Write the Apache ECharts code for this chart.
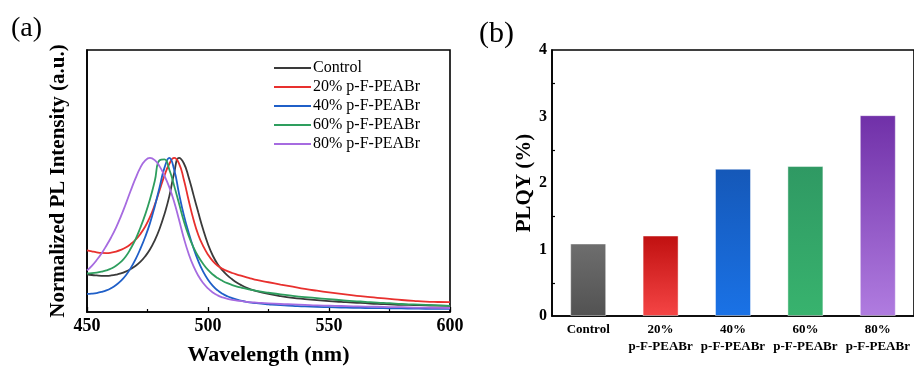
<!DOCTYPE html>
<html>
<head>
<meta charset="utf-8">
<script src="https://cdn.jsdelivr.net/npm/echarts@6/dist/echarts.min.js"></script>
<style>
  html, body { margin: 0; padding: 0; background: #fff; }
  #chart { width: 914px; height: 371px; }
</style>
</head>
<body>
<div id="chart"></div>
<script>
// (a) PL spectra, normalized intensity at each wavelength (nm)
const wavelength = [450,452,454,456,458,460,462,464,466,468,470,472,474,476,478,480,482,484,486,488,490,492,494,496,498,500,502,504,506,508,510,512,514,516,518,520,525,530,535,540,545,550,555,560,565,570,575,580,585,590,595,600]
const control = [.245,.240,.237,.235,.235,.237,.242,.250,.262,.278,.298,.325,.360,.405,.465,.540,.635,.750,.900,1.000,.965,.875,.760,.645,.535,.440,.365,.310,.270,.238,.212,.190,.172,.157,.145,.135,.117,.103,.092,.084,.077,.071,.066,.061,.057,.053,.050,.047,.045,.043,.041,.040]
const pf20 = [.400,.393,.387,.383,.382,.385,.392,.403,.418,.440,.468,.505,.553,.615,.695,.790,.885,.960,1.000,.965,.860,.725,.600,.500,.428,.372,.330,.300,.280,.265,.253,.243,.234,.225,.216,.208,.193,.178,.164,.150,.138,.127,.117,.108,.100,.092,.085,.078,.072,.067,.065,.064]
const pf40 = [.117,.119,.123,.130,.140,.155,.175,.202,.237,.283,.340,.408,.485,.575,.685,.810,.935,1.000,.925,.770,.630,.515,.415,.330,.262,.210,.170,.140,.118,.102,.090,.080,.072,.066,.061,.057,.050,.044,.040,.036,.033,.031,.029,.027,.026,.025,.024,.023,.022,.021,.021,.020]
const pf60 = [.250,.252,.256,.262,.270,.282,.300,.325,.360,.410,.470,.545,.630,.730,.850,.985,.990,.925,.820,.705,.590,.495,.420,.360,.312,.273,.243,.220,.202,.187,.175,.165,.157,.150,.143,.137,.125,.114,.105,.097,.090,.083,.077,.071,.066,.061,.057,.052,.049,.046,.043,.040]
const pf80 = [.270,.300,.337,.380,.430,.485,.548,.620,.700,.785,.865,.935,.982,1.000,.985,.945,.885,.810,.715,.600,.480,.378,.297,.235,.188,.153,.127,.108,.095,.086,.079,.074,.070,.066,.063,.061,.056,.052,.049,.046,.043,.041,.039,.037,.035,.034,.032,.031,.029,.028,.027,.026]

const seriesNames = ['Control', '20% p-F-PEABr', '40% p-F-PEABr', '60% p-F-PEABr', '80% p-F-PEABr']

// (b) PLQY
const categories = ['Control', '20%\np-F-PEABr', '40%\np-F-PEABr', '60%\np-F-PEABr', '80%\np-F-PEABr']
const plqy = [1.09, 1.21, 2.215, 2.255, 3.02]

const lineColors = ['#3a3a3a', '#e8302e', '#1f5fc8', '#2e9e5e', '#a66be0']
const barColors = [
  ['#6e6e6e', '#525252'],
  ['#c01010', '#f54545'],
  ['#1558b8', '#1a72e6'],
  ['#2f9963', '#38b36e'],
  ['#7030a8', '#b07ce0'],
]

const serif = '"Liberation Serif", "Times New Roman", serif'
const chart = echarts.init(document.getElementById('chart'))

const spectra = [control, pf20, pf40, pf60, pf80]

chart.setOption({
  animation: false,
  textStyle: { fontFamily: serif, color: '#000' },
  graphic: [
    { type: 'text', left: 11, top: 15, style: { text: '(a)', font: '28px ' + serif, fill: '#000' } },
    { type: 'text', left: 479, top: 19, style: { text: '(b)', font: '30px ' + serif, fill: '#000' } },
  ],
  legend: {
    left: 269,
    top: 55,
    orient: 'vertical',
    icon: 'rect',
    itemWidth: 37,
    itemHeight: 2,
    itemGap: 3,
    data: seriesNames,
    textStyle: { fontFamily: serif, fontSize: 16, color: '#000', padding: [0, 0, 0, -3] },
  },
  grid: [
    { left: 87, right: 464, top: 50, bottom: 55, show: true, borderColor: '#000', borderWidth: 1.6 },
    { left: 552, right: -1, top: 50, bottom: 55, show: true, borderColor: '#000', borderWidth: 1.6 },
  ],
  xAxis: [
    {
      gridIndex: 0,
      type: 'value',
      min: 450,
      max: 600,
      interval: 50,
      name: 'Wavelength (nm)',
      nameLocation: 'middle',
      nameGap: 32,
      nameTextStyle: { fontFamily: serif, fontSize: 22, fontWeight: 'bold', color: '#000' },
      axisLine: { lineStyle: { color: '#000', width: 1.6 } },
      axisTick: { inside: true, length: 5, lineStyle: { color: '#000', width: 1.3 } },
      minorTick: { show: true, splitNumber: 2, length: 3, lineStyle: { color: '#000', width: 1.2 } },
      axisLabel: { margin: 5, fontFamily: serif, fontSize: 18, fontWeight: 'bold', color: '#000' },
      splitLine: { show: false },
    },
    {
      gridIndex: 1,
      type: 'category',
      data: categories,
      axisLine: { lineStyle: { color: '#000', width: 1.6 } },
      axisTick: { show: false },
      axisLabel: { margin: 5, fontFamily: serif, fontSize: 13, fontWeight: 'bold', color: '#000', lineHeight: 17, interval: 0 },
    },
  ],
  yAxis: [
    {
      gridIndex: 0,
      type: 'value',
      min: 0,
      max: 1.7,
      name: 'Normalized PL Intensity (a.u.)',
      nameLocation: 'middle',
      nameGap: 18,
      nameTextStyle: { fontFamily: serif, fontSize: 21, fontWeight: 'bold', color: '#000' },
      axisLine: { show: true, lineStyle: { color: '#000', width: 1.6 } },
      axisTick: { show: false },
      axisLabel: { show: false },
      splitLine: { show: false },
    },
    {
      gridIndex: 1,
      type: 'value',
      min: 0,
      max: 4,
      interval: 1,
      name: 'PLQY (%)',
      nameLocation: 'middle',
      nameGap: 15,
      nameTextStyle: { fontFamily: serif, fontSize: 21, fontWeight: 'bold', color: '#000' },
      axisLine: { show: true, lineStyle: { color: '#000', width: 1.6 } },
      axisTick: { inside: true, length: 4, lineStyle: { color: '#000', width: 1.3 } },
      minorTick: { show: true, splitNumber: 2, length: 3, lineStyle: { color: '#000', width: 1.2 } },
      axisLabel: { margin: 5, fontFamily: serif, fontSize: 16, fontWeight: 'bold', color: '#000' },
      splitLine: { show: false },
    },
  ],
  series: [
    ...spectra.map((vals, i) => ({
      name: seriesNames[i],
      type: 'line',
      xAxisIndex: 0,
      yAxisIndex: 0,
      data: wavelength.map((w, j) => [w, vals[j]]),
      smooth: 0.5,
      showSymbol: false,
      lineStyle: { color: lineColors[i], width: 1.8 },
      itemStyle: { color: lineColors[i] },
    })),
    {
      type: 'bar',
      xAxisIndex: 1,
      yAxisIndex: 1,
      barWidth: 36,
      data: plqy.map((v, i) => ({
        value: v,
        itemStyle: {
          color: new echarts.graphic.LinearGradient(0, 0, 0, 1, [
            { offset: 0, color: barColors[i][0] },
            { offset: 1, color: barColors[i][1] },
          ]),
          borderColor: 'rgba(255,255,255,0.45)',
          borderWidth: 1,
        },
      })),
    },
  ],
})
</script>
</body>
</html>
